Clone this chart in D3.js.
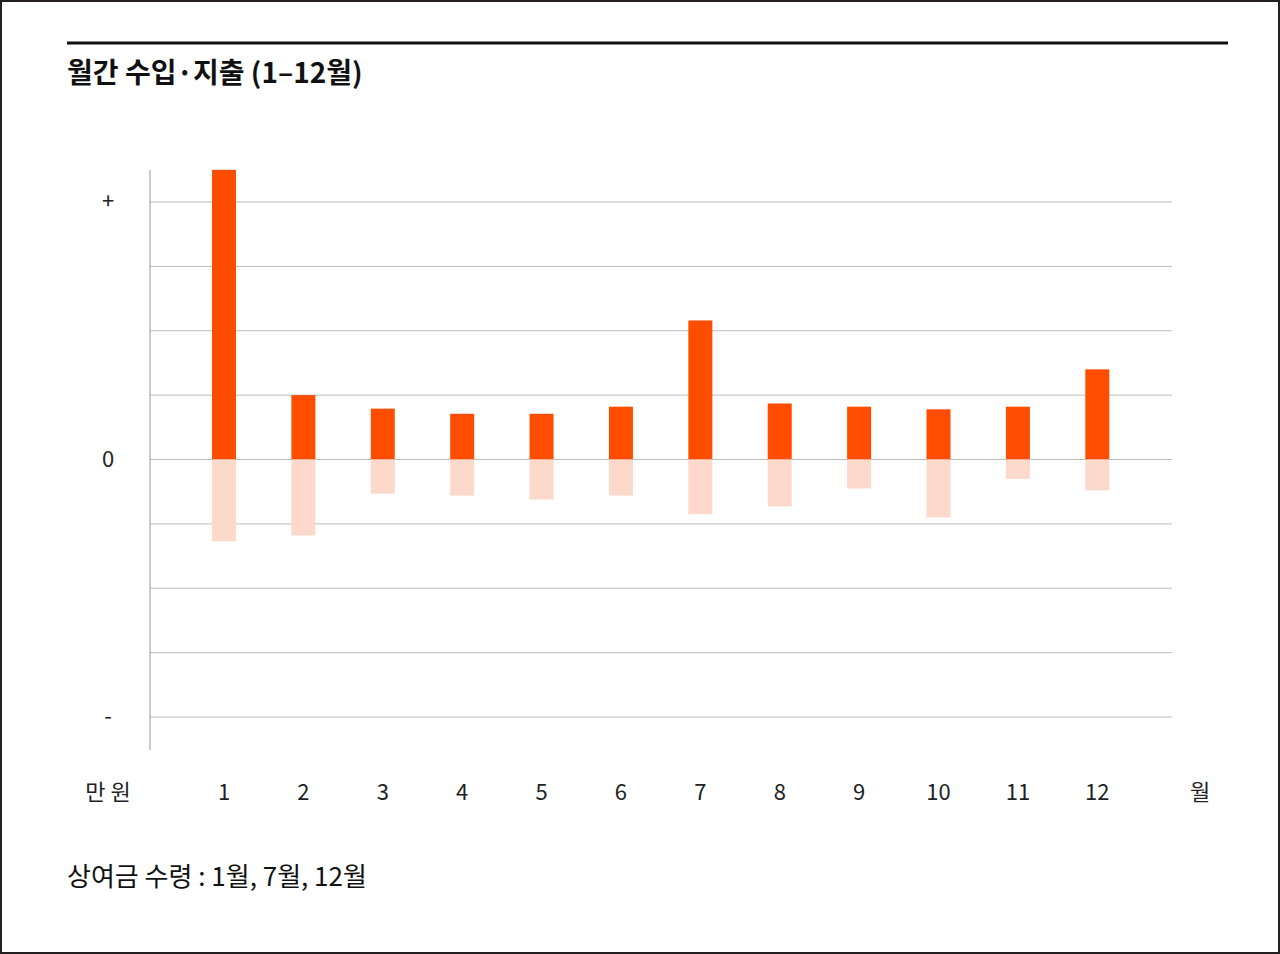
<!DOCTYPE html>
<html><head><meta charset="utf-8">
<script src="https://cdn.jsdelivr.net/npm/d3@7"></script>
<style>body{margin:0;background:#fff}svg{display:block;font-family:"Noto Sans CJK KR","Lato",sans-serif}</style>
</head><body><svg id="c" width="1280" height="954"></svg>
<script>
const months = ["1","2","3","4","5","6","7","8","9","10","11","12"];
const income = [4.5,1.0,0.79,0.71,0.71,0.82,2.16,0.87,0.82,0.78,0.82,1.4];
const expense = [-1.27,-1.18,-0.53,-0.56,-0.62,-0.56,-0.85,-0.73,-0.45,-0.9,-0.3,-0.48];
const yTicks = [4,3,2,1,0,-1,-2,-3,-4];
const yLabels = {"4":"+","0":"0","-4":"-"};

const svg = d3.select("#c");
svg.append("rect").attr("x",1).attr("y",1).attr("width",1278).attr("height",952).attr("fill","#fff").attr("stroke","#231f20").attr("stroke-width",2);
svg.append("line").attr("x1",67).attr("x2",1228).attr("y1",43).attr("y2",43).attr("stroke","#111").attr("stroke-width",3);
svg.append("text").attr("x",67).attr("y",83).attr("font-size",28).attr("font-weight",700).attr("fill","#111").text("월간 수입·지출 (1–12월)");

const x = d3.scaleBand().domain(months).range([184.3,1137]).paddingInner(0.7).paddingOuter(0.35);
const y = d3.scaleLinear().domain([-4,4]).range([717,202]);

svg.selectAll(".g").data(yTicks).join("line").attr("x1",150).attr("x2",1172)
  .attr("y1",d=>y(d)).attr("y2",d=>y(d)).attr("stroke","#bbb").attr("stroke-width",1);
svg.append("line").attr("x1",150).attr("x2",150).attr("y1",170).attr("y2",750).attr("stroke","#999");
svg.selectAll(".yl").data(yTicks.filter(d=>yLabels[d])).join("text").attr("x",108).attr("y",d=>y(d)+7)
  .attr("text-anchor","middle").attr("font-size",22).attr("fill","#222").text(d=>yLabels[d]);

const bw = 24;
svg.selectAll(".inc").data(months).join("rect")
  .attr("x",d=>x(d)+x.bandwidth()/2-bw/2).attr("width",bw)
  .attr("y",(d,i)=>y(income[i])).attr("height",(d,i)=>y(0)-y(income[i])).attr("fill","#FF4D00");
svg.selectAll(".exp").data(months).join("rect")
  .attr("x",d=>x(d)+x.bandwidth()/2-bw/2).attr("width",bw)
  .attr("y",y(0)).attr("height",(d,i)=>y(expense[i])-y(0)).attr("fill","#FDD9CB");

svg.selectAll(".xl").data(months).join("text").attr("x",d=>x(d)+x.bandwidth()/2).attr("y",800)
  .attr("text-anchor","middle").attr("font-size",22).attr("fill","#222").text(d=>d);
svg.append("text").attr("x",108).attr("y",800).attr("text-anchor","middle").attr("font-size",22).attr("fill","#222").text("만 원");
svg.append("text").attr("x",1200).attr("y",800).attr("text-anchor","middle").attr("font-size",22).attr("fill","#222").text("월");
svg.append("text").attr("x",67).attr("y",886).attr("font-size",26).attr("fill","#111").text("상여금 수령 : 1월, 7월, 12월");
</script></body></html>
